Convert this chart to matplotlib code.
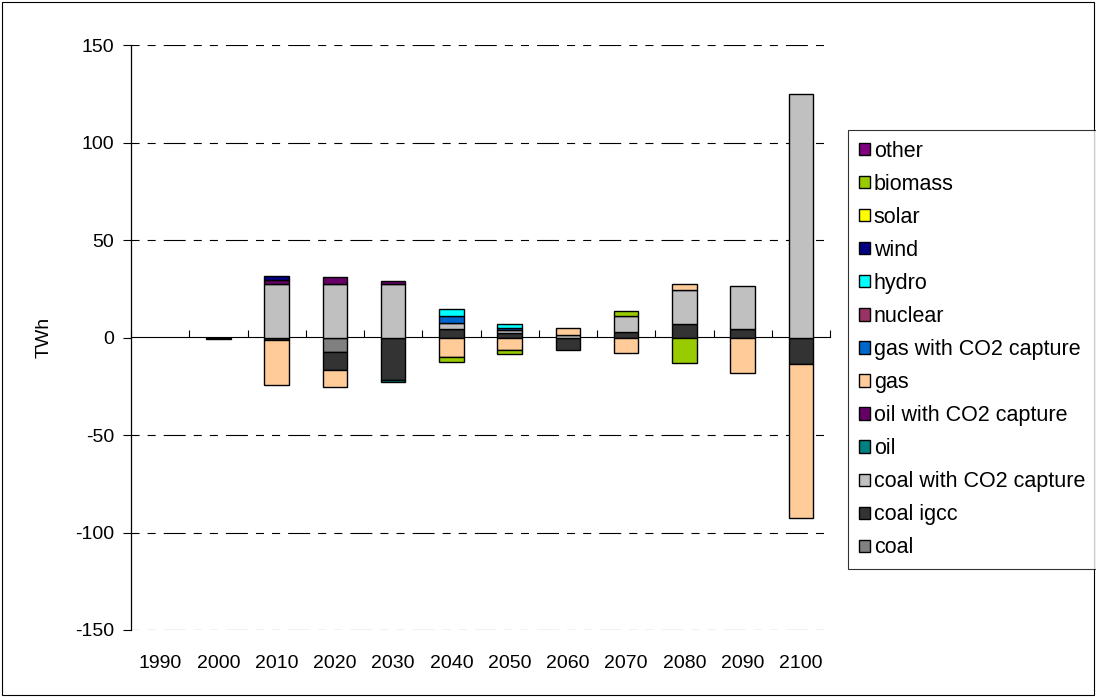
import numpy as np
import matplotlib
matplotlib.use("Agg")
import matplotlib.pyplot as plt
from matplotlib.patches import Patch, Rectangle

plt.rcParams['font.family'] = ['Liberation Sans', 'DejaVu Sans']
plt.rcParams['lines.scale_dashes'] = False
plt.rcParams['axes.unicode_minus'] = False

# 数据 (TWh)，按堆叠顺序从下到上
years = ["1990", "2000", "2010", "2020", "2030", "2040", "2050", "2060", "2070", "2080", "2090", "2100"]

coal = [0, 0, 0, -7.3, 0, 0, 0, 0, 0, 0, 0, 0]
coal_igcc = [0, 0, -1.4, -9.3, -21.7, 4.6, 2.4, -6.5, 2.7, 7.1, 4.6, -13.7]
coal_ccs = [0, 0, 27.3, 27.3, 27.2, 2.7, 1.7, 1.2, 8.2, 17.3, 21.8, 125.0]
oil = [0, 0, 0, 0, -1.2, 0, 0, 0, 0, 0, 0, 0]
oil_ccs = [0, 0, 2.2, 3.6, 2.0, 0, 0, 0, 0, 0, 0, 0]
gas = [0, 0, -23.2, -8.8, 0, -9.8, -6.5, 3.9, -8.2, 3.1, -18.4, -79.0]
gas_ccs = [0, 0, 0, 0, 0, 3.7, 1.0, 0, 0, 0, 0, 0]
nuclear = [0, 0, 0, 0, 0, 0, 0, 0, 0, 0, 0, 0]
hydro = [0, 0, 0, 0, 0, 3.6, 1.7, 0, 0, 0, 0, 0]
wind = [0, 0, 2.2, 0, 0, 0, 0, 0, 0, 0, 0, 0]
solar = [0, 0, 0, 0, 0, 0, 0, 0, 0, 0, 0, 0]
biomass = [0, -1.0, 0, 0, 0, -2.9, -2.0, 0, 2.7, -12.9, 0, 0]
other = [0, 0, 0, 0, 0, 0, 0, 0, 0, 0, 0, 0]

series = [
    ("coal", coal, "#808080"),
    ("coal igcc", coal_igcc, "#333333"),
    ("coal with CO2 capture", coal_ccs, "#C0C0C0"),
    ("oil", oil, "#008080"),
    ("oil with CO2 capture", oil_ccs, "#660066"),
    ("gas", gas, "#FFCC99"),
    ("gas with CO2 capture", gas_ccs, "#0066CC"),
    ("nuclear", nuclear, "#993366"),
    ("hydro", hydro, "#00FFFF"),
    ("wind", wind, "#000080"),
    ("solar", solar, "#FFFF00"),
    ("biomass", biomass, "#99CC00"),
    ("other", other, "#800080"),
]

fig = plt.figure(figsize=(10.96, 6.97), dpi=100)
ax = fig.add_axes([131 / 1096, 1 - 630 / 697, (830 - 131) / 1096, (630 - 45) / 697])

x = np.arange(len(years))
pos_bottom = np.zeros(len(years))
neg_bottom = np.zeros(len(years))
width = 0.42

for name, vals, color in series:
    v = np.array(vals, dtype=float)
    for mask, bottom in ((v > 0, pos_bottom), (v < 0, neg_bottom)):
        if mask.any():
            ax.bar(x[mask], v[mask], width, bottom=bottom[mask], color=color,
                   edgecolor="black", linewidth=1.0, zorder=3)
            bottom[mask] += v[mask]

ax.set_xlim(-0.5, len(years) - 0.5)
ax.set_ylim(-150, 150)
ax.set_yticks(np.arange(-150, 151, 50))
ax.tick_params(axis="y", direction="out", length=6, width=0.8, labelsize=14, pad=6)
ax.set_xticks(x)
ax.set_xticklabels(years)
ax.tick_params(axis="x", length=0, labelsize=14, pad=18)

# 网格线 (虚线)
for yv in np.arange(-150, 151, 50):
    if yv == 0:
        continue
    ax.axhline(yv, color="black", linewidth=0.8, dashes=(5.8, 5.8, 5.8, 5.8, 15.8, 5.8), zorder=1)

for s in ["top", "right", "bottom"]:
    ax.spines[s].set_visible(False)
ax.spines["left"].set_linewidth(0.9)

# 零线及分类刻度
sec = ax.secondary_xaxis(0.5)
sec.set_xticks(np.arange(-0.5, len(years), 1.0))
sec.set_xticklabels([])
sec.tick_params(direction="out", length=5, width=0.8)
sec.spines["bottom"].set_linewidth(1.0)

ax.set_ylabel("TWh", fontsize=14, labelpad=16)

handles = [Patch(facecolor=c, edgecolor="black", linewidth=1.0, label=n) for n, _, c in series][::-1]
leg = fig.legend(handles=handles, loc="upper left", bbox_to_anchor=(848 / 1096, 1 - 130 / 697),
                 fontsize=15.5, frameon=True, fancybox=False, handlelength=0.5, handleheight=0.5,
                 handletextpad=0.2, labelspacing=0.56, borderpad=0.5, borderaxespad=0)
leg.get_frame().set_edgecolor("black")
leg.get_frame().set_linewidth(0.8)

# 外框
fig.patches.append(Rectangle((0.002, 0.003), 0.996, 0.994, transform=fig.transFigure,
                             fill=False, edgecolor="black", linewidth=0.8))

fig.savefig("out.png", dpi=100)
